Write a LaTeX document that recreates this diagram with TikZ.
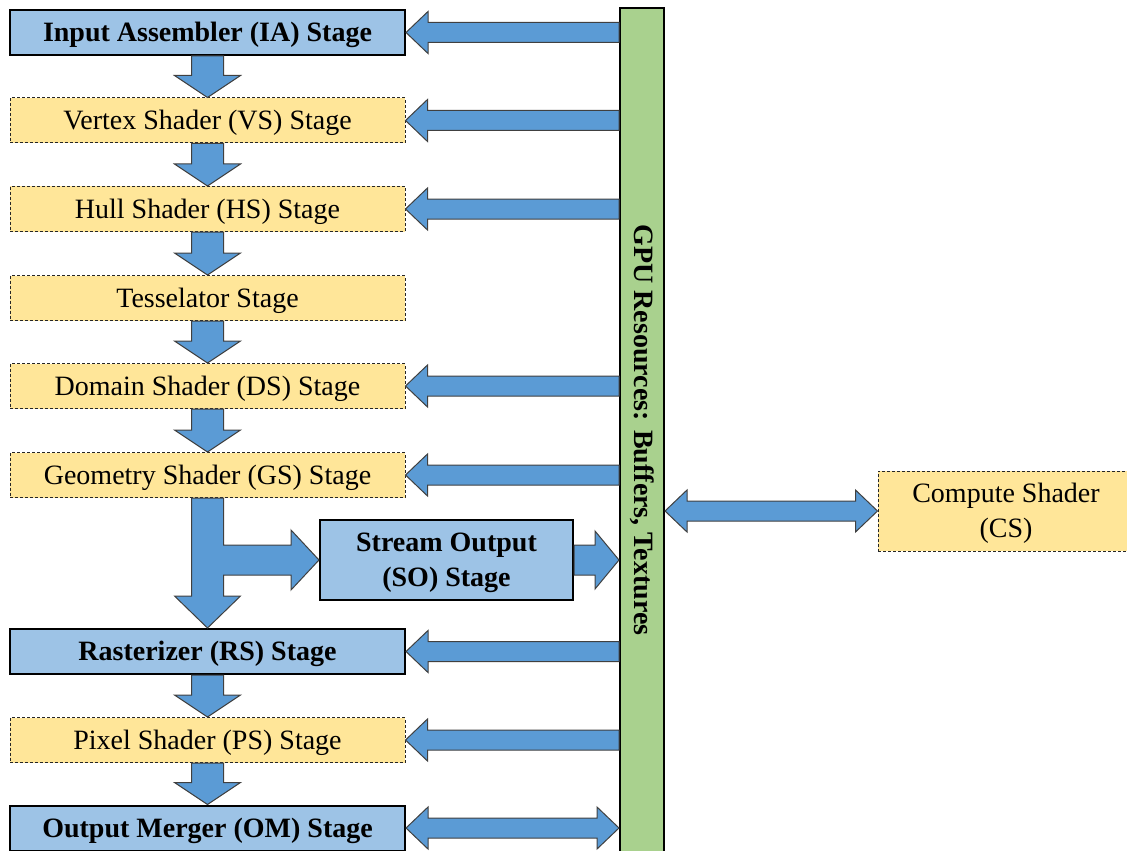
\documentclass[tikz,border=0pt]{standalone}
\usepackage{fontspec}
\setmainfont{Liberation Serif}
\usepackage{tikz}
\usetikzlibrary{
    calc,
    positioning
}

\definecolor{stageblue}{HTML}{9DC3E6}
\definecolor{stageyellow}{HTML}{FFE699}
\definecolor{arrowblue}{HTML}{5B9BD5}
\definecolor{resgreen}{HTML}{A9D18E}

\newcommand{\fatleft}[2]{%
    \draw[fatarrow] (#1) -- ++(22,-21) -- ++(0,11) -- ($(#2 |- #1)+(0,-10)$) -- ++(0,20) -- ($(#1)+(22,10)$) -- ++(0,11) -- cycle;}
\newcommand{\fatdown}[2]{%
    \draw[fatarrow] (#2) -- ++(-33,-22) -- ++(17,0) -- ($(#1)+(-16,0)$) -- ++(32,0) -- ($(#2)+(16,-22)$) -- ++(17,0) -- cycle;}
\newcommand{\fatboth}[2]{%
    \draw[fatarrow] (#1) -- ++(22,-21) -- ++(0,11) -- ($(#2 |- #1)+(-22,-10)$) -- ++(0,-11) -- (#2 |- #1) -- ++(-22,21) -- ++(0,-11) -- ($(#1)+(22,10)$) -- ++(0,11) -- cycle;}

\begin{document}
\begin{tikzpicture}[x=0.5pt,y=-0.5pt,
    font=\fontsize{14}{17.5}\selectfont,
    solidstage/.style={draw, line width=1pt, fill=stageblue, minimum width=197.5pt, minimum height=22.5pt, inner sep=0pt, text height=11pt, text depth=2pt, font=\fontsize{14}{17.5}\selectfont\bfseries},
    dashstage/.style={draw=black!85, line width=0.5pt, dash pattern=on 1.5pt off 1pt, fill=stageyellow, minimum width=197.5pt, minimum height=22.5pt, inner sep=0pt, text height=11pt, text depth=2pt},
    fatarrow/.style={draw=black!75, line width=0.5pt, fill=arrowblue, line join=miter}]
            \useasboundingbox (0,0) rectangle (1127,850);

            \node[solidstage] (ia) at (207.5,32.5) {Input Assembler (IA) Stage};
            \node[dashstage] (vs) at (207.5,120.5) {Vertex Shader (VS) Stage};
            \node[dashstage] (hs) at (207.5,209) {Hull Shader (HS) Stage};
            \node[dashstage] (ts) at (207.5,298) {Tesselator Stage};
            \node[dashstage] (ds) at (207.5,386) {Domain Shader (DS) Stage};
            \node[dashstage] (gs) at (207.5,475) {Geometry Shader (GS) Stage};
            \node[solidstage, text height=, text depth=0.5pt, minimum width=126.5pt, minimum height=40pt, align=center] (so) at (446.5,560) {Stream Output\\(SO) Stage};
            \node[solidstage] (rs) at (207.5,651.5) {Rasterizer (RS) Stage};
            \node[dashstage] (ps) at (207.5,740) {Pixel Shader (PS) Stage};
            \node[solidstage] (om) at (207.5,828) {Output Merger (OM) Stage};
            \node[dashstage, text height=, text depth=0.5pt, minimum width=128pt, minimum height=40pt, align=center] (cs) at (1006,511) {Compute Shader\\(CS)};

            \node[draw, line width=1pt, fill=resgreen, minimum width=22pt, minimum height=422pt, inner sep=0pt] (gpu) at (642,430) {};
            \node[rotate=-90, font=\fontsize{14}{17.5}\selectfont\bfseries] (gputext) at (gpu.center) {GPU Resources: Buffers, Textures};
            \coordinate (csin) at (gpu.east |- cs.west);

            \fatdown{ia.south}{vs.north}
            \fatdown{vs.south}{hs.north}
            \fatdown{hs.south}{ts.north}
            \fatdown{ts.south}{ds.north}
            \fatdown{ds.south}{gs.north}
            \fatdown{rs.south}{ps.north}
            \fatdown{ps.south}{om.north}

            \draw[fatarrow] ($(gs.south)+(-16,0)$) -- ($(rs.north)+(-16,-32)$) -- ++(-17,0) -- (rs.north) -- ++(33,-32) -- ++(-17,0) |- ($(so.west)+(-28,15)$) -- ++(0,15) -- (so.west) -- ++(-28,-30) -- ++(0,15) -| ($(gs.south)+(16,0)$) -- cycle;
            \draw[fatarrow] ($(so.east)+(0,-15)$) -- ($(gpu.west |- so.east)+(-24,-15)$) -- ++(0,-14) -- (gpu.west |- so.east) -- ++(-24,29) -- ++(0,-14) -- ($(so.east)+(0,15)$) -- cycle;

            \fatleft{ia.east}{gpu.west}
            \fatleft{vs.east}{gpu.west}
            \fatleft{hs.east}{gpu.west}
            \fatleft{ds.east}{gpu.west}
            \fatleft{gs.east}{gpu.west}
            \fatleft{rs.east}{gpu.west}
            \fatleft{ps.east}{gpu.west}

            \fatboth{om.east}{gpu.west}
            \fatboth{csin}{cs.west}
\end{tikzpicture}
\end{document}
